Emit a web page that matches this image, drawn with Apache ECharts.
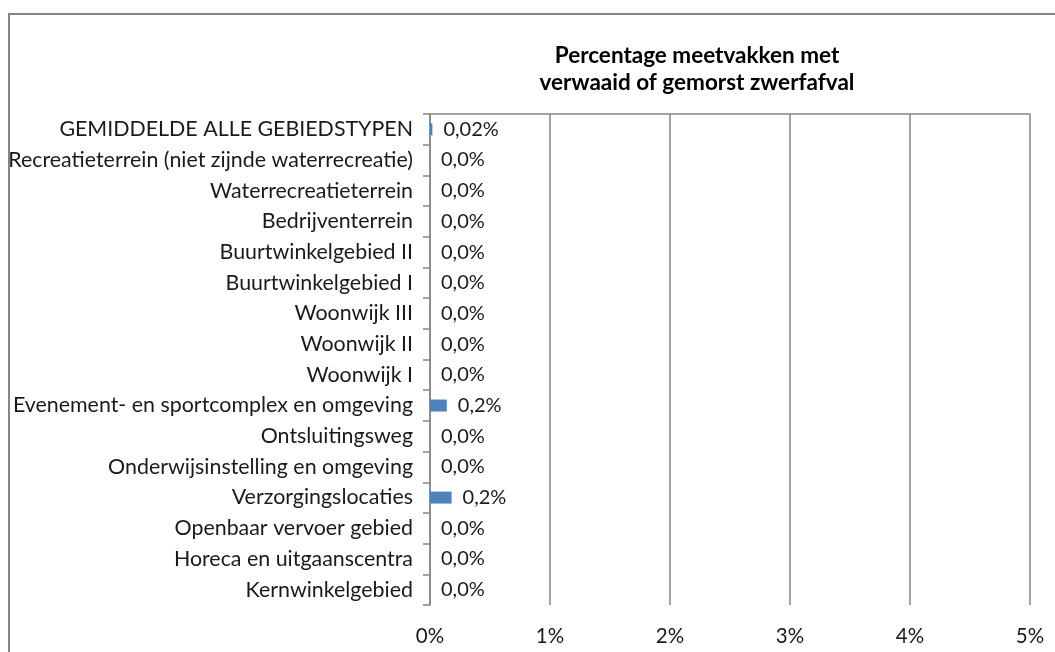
<!DOCTYPE html>
<html>
<head>
<meta charset="utf-8">
<script src="https://cdn.jsdelivr.net/npm/echarts@6/dist/echarts.min.js"></script>
<style>html,body{margin:0;padding:0;background:#fff}#c{width:1055px;height:652px}</style>
</head>
<body>
<div id="c"></div>
<script>
const categories = [
  "GEMIDDELDE ALLE GEBIEDSTYPEN",
  "Recreatieterrein (niet zijnde waterrecreatie)",
  "Waterrecreatieterrein",
  "Bedrijventerrein",
  "Buurtwinkelgebied II",
  "Buurtwinkelgebied I",
  "Woonwijk III",
  "Woonwijk II",
  "Woonwijk I",
  "Evenement- en sportcomplex en omgeving",
  "Ontsluitingsweg",
  "Onderwijsinstelling en omgeving",
  "Verzorgingslocaties",
  "Openbaar vervoer gebied",
  "Horeca en uitgaanscentra",
  "Kernwinkelgebied"
];
const values = [0.02, 0, 0, 0, 0, 0, 0, 0, 0, 0.14, 0, 0, 0.18, 0, 0, 0];
const valueLabels = ["0,02%", "0,0%", "0,0%", "0,0%", "0,0%", "0,0%", "0,0%", "0,0%", "0,0%", "0,2%", "0,0%", "0,0%", "0,2%", "0,0%", "0,0%", "0,0%"];
const xTicks = [0, 1, 2, 3, 4, 5];
const titleLines = ["Percentage meetvakken met", "verwaaid of gemorst zwerfafval"];

const FONT = "Lato";
const TXT = "#1a1a1a";
const GRID = "#868686";

const chart = echarts.init(document.getElementById('c'));
chart.setOption({
  animation: false,
  textStyle: { fontFamily: FONT },
  title: {
    text: titleLines.join("\n"),
    left: 692, top: 37, textAlign: 'center',
    textStyle: { fontFamily: FONT, fontSize: 22.5, fontWeight: 'bold', color: '#000', lineHeight: 27 }
  },
  graphic: [{
    type: 'rect', shape: { x: 9, y: 14, width: 1200, height: 800 },
    style: { fill: 'none', stroke: GRID, lineWidth: 2 }, silent: true, z: 100
  }],
  grid: { left: 430, right: 25, top: 114, bottom: 47 },
  xAxis: [{
    type: 'value', position: 'bottom',
    min: xTicks[0], max: xTicks[xTicks.length - 1], interval: 1,
    axisLine: { show: false }, axisTick: { show: false },
    splitLine: { show: true, lineStyle: { color: GRID, width: 1.5 } },
    axisLabel: { margin: 21, fontSize: 20.5, color: TXT, fontFamily: FONT, formatter: v => v + '%' }
  }, {
    type: 'value', position: 'top',
    min: xTicks[0], max: xTicks[xTicks.length - 1], interval: 1,
    axisLine: { show: true, lineStyle: { color: GRID, width: 1.5 } },
    axisTick: { show: false }, axisLabel: { show: false }, splitLine: { show: false }
  }],
  yAxis: {
    type: 'category', data: categories, inverse: true,
    axisLine: { show: true, lineStyle: { color: GRID, width: 1.5 } },
    axisTick: { show: true, length: 7, lineStyle: { color: GRID, width: 1.5 } },
    axisLabel: { margin: 17, fontSize: 21.4, color: TXT, fontFamily: FONT }
  },
  series: [{
    type: 'bar', data: values, barWidth: 12, xAxisIndex: 0,
    itemStyle: { color: '#4F81BD' },
    label: {
      show: true, position: 'right', distance: 11,
      fontSize: 20, color: TXT, fontFamily: FONT,
      formatter: p => valueLabels[p.dataIndex]
    }
  }]
});
</script>
</body>
</html>
